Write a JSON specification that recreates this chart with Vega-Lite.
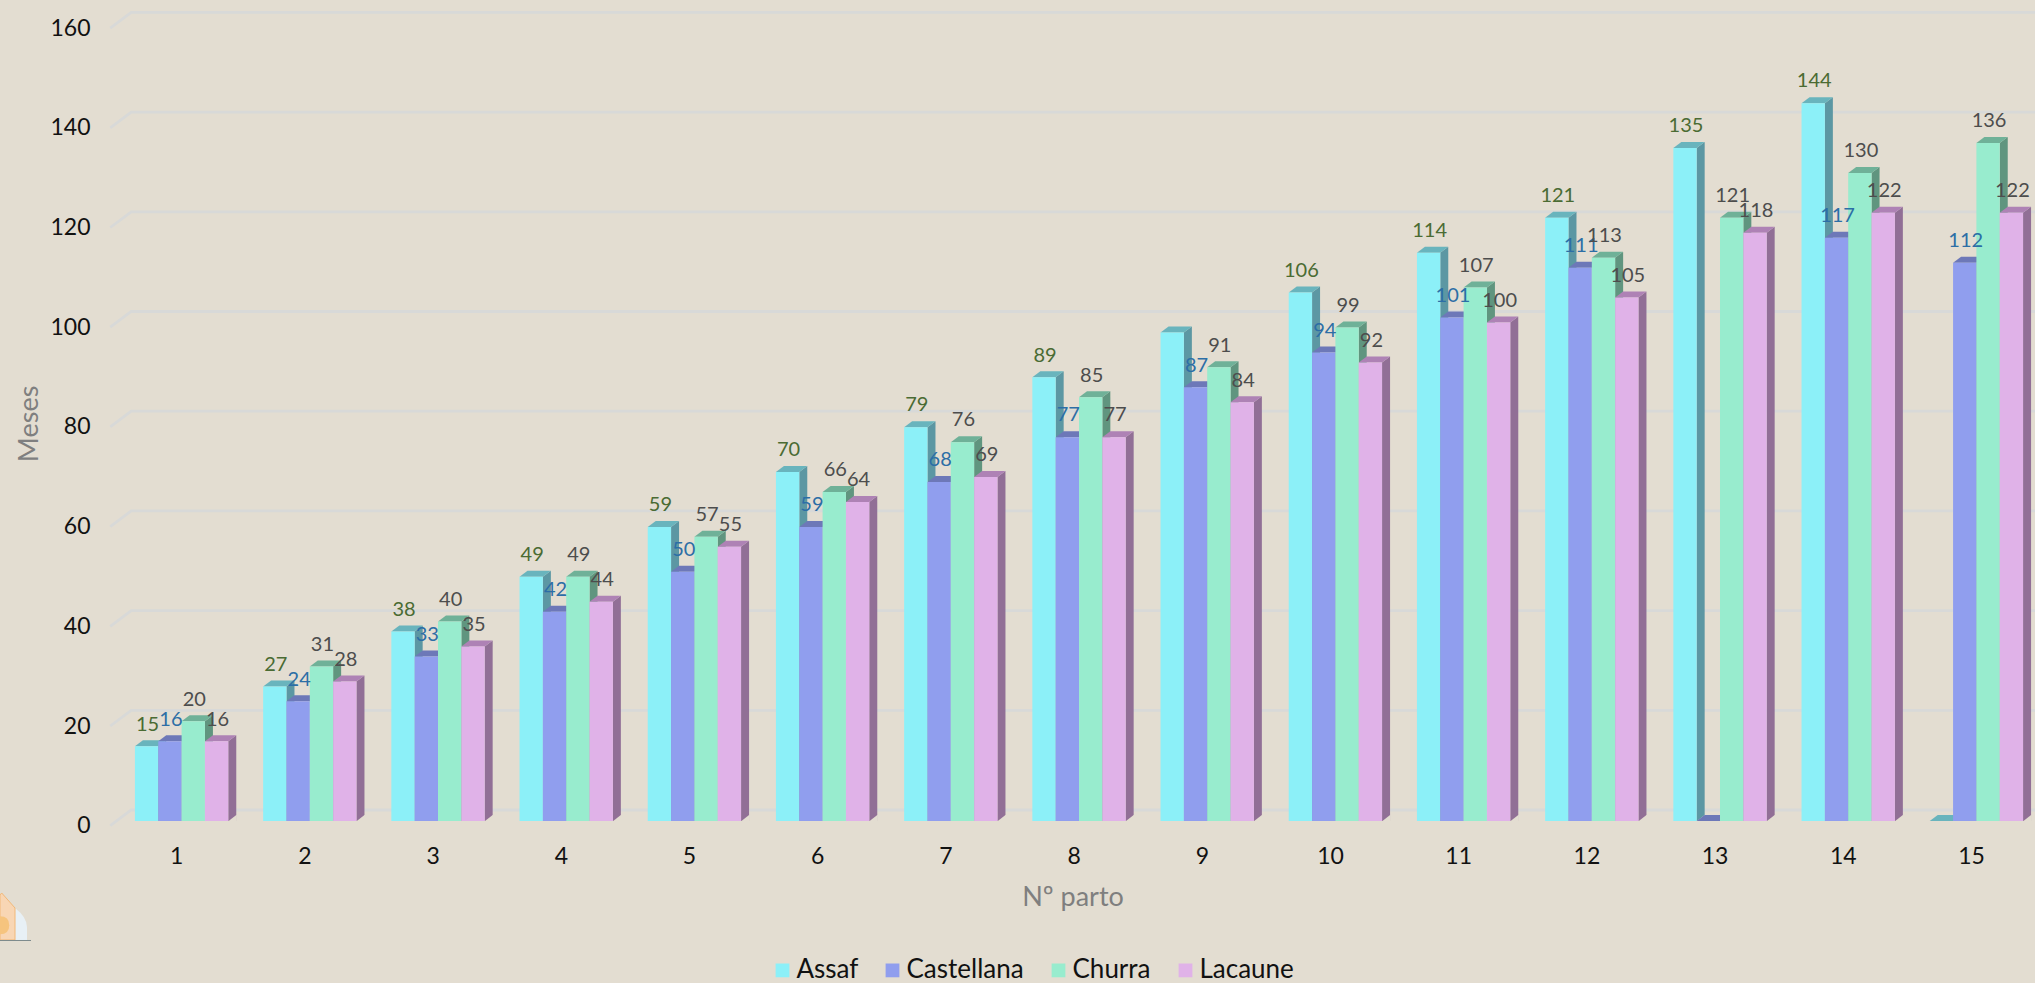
{"$schema":"https://vega.github.io/schema/vega-lite/v6.json","width":1917.5,"height":797.6,"autosize":"none","padding":{"left":117.5,"top":23.4,"right":0,"bottom":162},"background":"#e3ddd1","config":{"font":"Lato","view":{"stroke":null}},"datasets":{"partos":[{"parto":1,"raza":"Assaf","meses":15,"etiqueta":"15"},{"parto":1,"raza":"Castellana","meses":16,"etiqueta":"16"},{"parto":1,"raza":"Churra","meses":20,"etiqueta":"20"},{"parto":1,"raza":"Lacaune","meses":16,"etiqueta":"16"},{"parto":2,"raza":"Assaf","meses":27,"etiqueta":"27"},{"parto":2,"raza":"Castellana","meses":24,"etiqueta":"24"},{"parto":2,"raza":"Churra","meses":31,"etiqueta":"31"},{"parto":2,"raza":"Lacaune","meses":28,"etiqueta":"28"},{"parto":3,"raza":"Assaf","meses":38,"etiqueta":"38"},{"parto":3,"raza":"Castellana","meses":33,"etiqueta":"33"},{"parto":3,"raza":"Churra","meses":40,"etiqueta":"40"},{"parto":3,"raza":"Lacaune","meses":35,"etiqueta":"35"},{"parto":4,"raza":"Assaf","meses":49,"etiqueta":"49"},{"parto":4,"raza":"Castellana","meses":42,"etiqueta":"42"},{"parto":4,"raza":"Churra","meses":49,"etiqueta":"49"},{"parto":4,"raza":"Lacaune","meses":44,"etiqueta":"44"},{"parto":5,"raza":"Assaf","meses":59,"etiqueta":"59"},{"parto":5,"raza":"Castellana","meses":50,"etiqueta":"50"},{"parto":5,"raza":"Churra","meses":57,"etiqueta":"57"},{"parto":5,"raza":"Lacaune","meses":55,"etiqueta":"55"},{"parto":6,"raza":"Assaf","meses":70,"etiqueta":"70"},{"parto":6,"raza":"Castellana","meses":59,"etiqueta":"59"},{"parto":6,"raza":"Churra","meses":66,"etiqueta":"66"},{"parto":6,"raza":"Lacaune","meses":64,"etiqueta":"64"},{"parto":7,"raza":"Assaf","meses":79,"etiqueta":"79"},{"parto":7,"raza":"Castellana","meses":68,"etiqueta":"68"},{"parto":7,"raza":"Churra","meses":76,"etiqueta":"76"},{"parto":7,"raza":"Lacaune","meses":69,"etiqueta":"69"},{"parto":8,"raza":"Assaf","meses":89,"etiqueta":"89"},{"parto":8,"raza":"Castellana","meses":77,"etiqueta":"77"},{"parto":8,"raza":"Churra","meses":85,"etiqueta":"85"},{"parto":8,"raza":"Lacaune","meses":77,"etiqueta":"77"},{"parto":9,"raza":"Assaf","meses":98,"etiqueta":""},{"parto":9,"raza":"Castellana","meses":87,"etiqueta":"87"},{"parto":9,"raza":"Churra","meses":91,"etiqueta":"91"},{"parto":9,"raza":"Lacaune","meses":84,"etiqueta":"84"},{"parto":10,"raza":"Assaf","meses":106,"etiqueta":"106"},{"parto":10,"raza":"Castellana","meses":94,"etiqueta":"94"},{"parto":10,"raza":"Churra","meses":99,"etiqueta":"99"},{"parto":10,"raza":"Lacaune","meses":92,"etiqueta":"92"},{"parto":11,"raza":"Assaf","meses":114,"etiqueta":"114"},{"parto":11,"raza":"Castellana","meses":101,"etiqueta":"101"},{"parto":11,"raza":"Churra","meses":107,"etiqueta":"107"},{"parto":11,"raza":"Lacaune","meses":100,"etiqueta":"100"},{"parto":12,"raza":"Assaf","meses":121,"etiqueta":"121"},{"parto":12,"raza":"Castellana","meses":111,"etiqueta":"111"},{"parto":12,"raza":"Churra","meses":113,"etiqueta":"113"},{"parto":12,"raza":"Lacaune","meses":105,"etiqueta":"105"},{"parto":13,"raza":"Assaf","meses":135,"etiqueta":"135"},{"parto":13,"raza":"Castellana","meses":0,"etiqueta":""},{"parto":13,"raza":"Churra","meses":121,"etiqueta":"121"},{"parto":13,"raza":"Lacaune","meses":118,"etiqueta":"118"},{"parto":14,"raza":"Assaf","meses":144,"etiqueta":"144"},{"parto":14,"raza":"Castellana","meses":117,"etiqueta":"117"},{"parto":14,"raza":"Churra","meses":130,"etiqueta":"130"},{"parto":14,"raza":"Lacaune","meses":122,"etiqueta":"122"},{"parto":15,"raza":"Assaf","meses":0,"etiqueta":""},{"parto":15,"raza":"Castellana","meses":112,"etiqueta":"112"},{"parto":15,"raza":"Churra","meses":136,"etiqueta":"136"},{"parto":15,"raza":"Lacaune","meses":122,"etiqueta":"122"}],"marcas":[{"marca":0},{"marca":20},{"marca":40},{"marca":60},{"marca":80},{"marca":100},{"marca":120},{"marca":140},{"marca":160}]},"layer":[{"data":{"name":"marcas"},"mark":{"type":"point","shape":"M -966 4.7 L -945 -11 L 960 -11","size":4,"filled":false,"stroke":"#d8d9d8","strokeWidth":2.8,"opacity":1},"encoding":{"y":{"field":"marca","type":"quantitative","scale":{"domain":[0,160],"nice":false},"axis":{"values":[0,20,40,60,80,100,120,140,160],"labelOffset":4.7,"domain":false,"ticks":false,"grid":false,"labelPadding":27.5,"labelFontSize":23,"labelColor":"#111111","labelFont":"Lato","title":"Meses","titleFont":"Lato","titleFontSize":27,"titleFontWeight":"normal","titleColor":"#7f7f7f","titleX":-74.5,"titleY":400}}}},{"data":{"name":"partos"},"encoding":{"x":{"field":"parto","type":"ordinal","sort":"ascending","scale":{"range":[0,1923],"paddingInner":0.272,"paddingOuter":0.136},"axis":{"labelAngle":0,"labelOffset":-4.9,"domain":false,"ticks":false,"grid":false,"labelPadding":24,"labelFontSize":23,"labelColor":"#111111","labelFont":"Lato","title":"Nº parto","titleFont":"Lato","titleFontSize":27,"titleFontWeight":"normal","titleColor":"#7f7f7f","titleX":955,"titleY":76,"titleBaseline":"middle"}},"xOffset":{"field":"raza","type":"nominal","scale":{"padding":0}},"y":{"field":"meses","type":"quantitative","title":"Meses"}},"layer":[{"mark":{"type":"point","shape":"M 11.67 0 L 19.67 -6 L 19.67 1000 L 11.67 1000 Z","size":4,"filled":true,"opacity":1,"clip":true},"encoding":{"fill":{"field":"raza","type":"nominal","legend":null,"scale":{"range":["#5c97a3","#6b76b3","#60957f","#916f96"]}}}},{"mark":{"type":"point","shape":"M 11.67 0.2 L 20.2 0.2 L 20.2 -6 L 19.67 -6 Z","size":4,"filled":true,"opacity":1,"fill":"#e3ddd1"},"encoding":{"y":{"datum":0,"type":"quantitative"}}},{"mark":{"type":"point","shape":"M -11.67 0 L 11.67 0 L 19.67 -6 L -3.67 -6 Z","size":4,"filled":true,"opacity":1},"encoding":{"fill":{"field":"raza","type":"nominal","legend":null,"scale":{"range":["#69b4bd","#6d78b8","#6fb198","#ae82b5"]}}}},{"mark":{"type":"bar"},"encoding":{"color":{"field":"raza","type":"nominal","scale":{"range":["#8cf0f8","#909eee","#98ecce","#e0b2e8"]},"legend":{"title":null,"orient":"none","direction":"horizontal","columns":4,"legendX":652,"legendY":934,"symbolType":"square","symbolSize":190,"symbolStrokeWidth":0,"labelFontSize":26,"labelFont":"Lato","labelColor":"#111111","labelOffset":1,"columnPadding":21,"padding":0}}}},{"mark":{"type":"text","dy":-15.7,"dx":1,"baseline":"alphabetic","align":"center","fontSize":20,"font":"Lato"},"encoding":{"text":{"field":"etiqueta","type":"nominal"},"fill":{"field":"raza","type":"nominal","legend":null,"scale":{"range":["#4a6b33","#2c6ea6","#4d4d4d","#4d4d4d"]}}}}],"resolve":{"scale":{"fill":"independent"}}},{"data":{"values":[{"pieza":"ala"}]},"mark":{"type":"point","shape":"M -1061.25 485.8 Q -1049.25 495 -1049.25 505 L -1049.25 517.8 L -1061.25 517.8 Z","size":4,"filled":true,"opacity":1,"fill":"#e8f0f5"},"encoding":{}},{"data":{"values":[{"pieza":"casa"}]},"mark":{"type":"point","shape":"M -1074.55 470.8 L -1061.25 485.8 L -1061.25 517.8 L -1076.25 517.8 L -1076.25 472.8 Z","size":4,"filled":true,"opacity":1,"fill":"#f8d6b4","stroke":"#f2b878","strokeWidth":1},"encoding":{}},{"data":{"values":[{"pieza":"disco"}]},"mark":{"type":"point","shape":"M -1076.25 494 Q -1067 494 -1067 503 Q -1067 512 -1076.25 512 Z","size":4,"filled":true,"opacity":1,"fill":"#f6c47e"},"encoding":{}},{"data":{"values":[{"pieza":"suelo"}]},"mark":{"type":"point","shape":"M -1076.25 518.3 L -1045.25 518.3","size":4,"filled":false,"opacity":1,"stroke":"#7d8a8c","strokeWidth":1},"encoding":{}}],"resolve":{"scale":{"fill":"independent"}}}
